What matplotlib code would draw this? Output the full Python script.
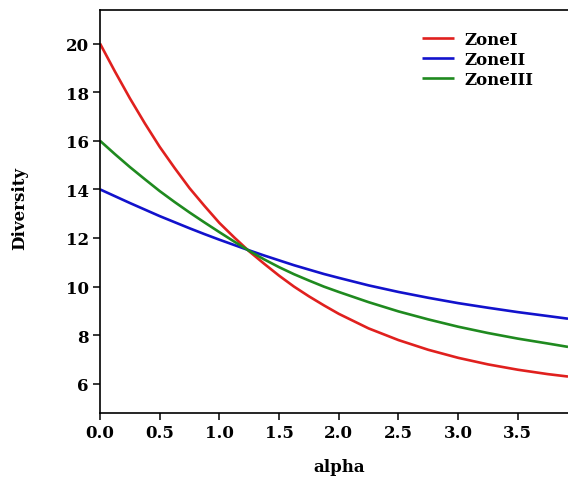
import matplotlib
matplotlib.use("Agg")
import matplotlib.pyplot as plt

alpha = [0.0, 0.125, 0.25, 0.375, 0.5, 0.625, 0.75, 0.875, 1.0, 1.125, 1.25, 1.375, 1.5,
         1.625, 1.75, 1.875, 2.0, 2.25, 2.5, 2.75, 3.0, 3.25, 3.5, 3.75, 3.92]
zone1 = [20.0, 18.85, 17.75, 16.72, 15.75, 14.88, 14.05, 13.32, 12.62, 12.02, 11.45, 10.94, 10.45,
         10.0, 9.6, 9.23, 8.88, 8.28, 7.8, 7.4, 7.07, 6.8, 6.58, 6.4, 6.3]
zone2 = [14.0, 13.72, 13.44, 13.17, 12.9, 12.65, 12.4, 12.16, 11.93, 11.71, 11.49, 11.28, 11.08,
         10.88, 10.7, 10.52, 10.36, 10.05, 9.78, 9.54, 9.32, 9.13, 8.95, 8.79, 8.68]
zone3 = [16.0, 15.45, 14.92, 14.42, 13.93, 13.48, 13.05, 12.64, 12.24, 11.85, 11.47, 11.12, 10.8,
         10.51, 10.25, 10.0, 9.78, 9.36, 8.98, 8.65, 8.35, 8.09, 7.86, 7.66, 7.52]
labels = ["ZoneI", "ZoneII", "ZoneIII"]
xticks = [0.0, 0.5, 1.0, 1.5, 2.0, 2.5, 3.0, 3.5]
yticks = [6, 8, 10, 12, 14, 16, 18, 20]

plt.rcParams['font.family'] = ['DejaVu Serif']
plt.rcParams['font.weight'] = 'bold'

fig = plt.figure(figsize=(5.68, 4.81), dpi=100)
ax = fig.add_axes([100/568, 1-414/481, 1-100/568, (414-11)/481])

colors = ['#e0201e', '#1212cc', '#1f8a1f']
for ys, lab, c in zip([zone1, zone2, zone3], labels, colors):
    ax.plot(alpha, ys, color=c, lw=1.9, label=lab, solid_capstyle='butt', solid_joinstyle='round')

ax.set_xlim(0, 3.92)
ax.set_ylim(4.8, 21.38)
ax.set_xticks(xticks)
ax.set_xticklabels([f"{t:.1f}" for t in xticks])
ax.set_yticks(yticks)
ax.set_yticklabels([str(t) for t in yticks])
ax.tick_params(direction='out', length=5, width=1.1, labelsize=12, pad=3)
for s in ['left', 'bottom', 'top']:
    ax.spines[s].set_linewidth(1.2)
ax.spines['right'].set_visible(False)

ax.set_xlabel("alpha", fontsize=12, fontweight='bold', va='center')
ax.set_ylabel("Diversity", fontsize=12, fontweight='bold', va='center')
ax.xaxis.set_label_coords((339 - 100) / 468, (414 - 468) / 403)
ax.yaxis.set_label_coords((20 - 100) / 468, 1 - (208 - 11) / 403)

leg = ax.legend(loc='upper left', bbox_to_anchor=(322/468, 1-21/403), frameon=False,
                fontsize=12, handlelength=1.9, handletextpad=0.65, labelspacing=0.17,
                borderaxespad=0, borderpad=0)
for t in leg.get_texts():
    t.set_fontweight('bold')

fig.savefig("out.png", dpi=100)
